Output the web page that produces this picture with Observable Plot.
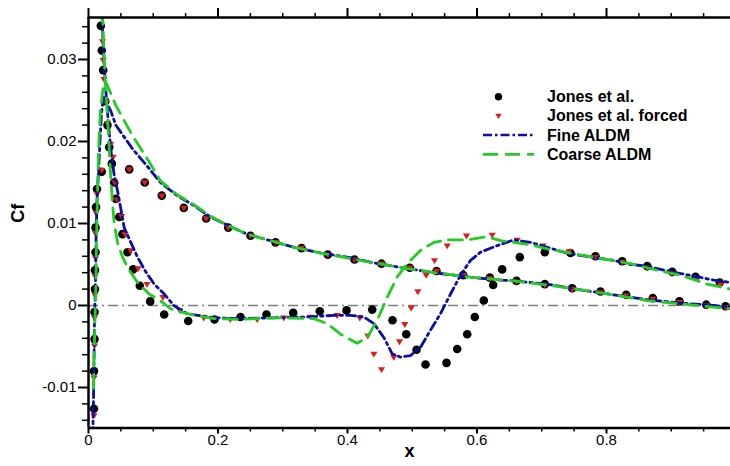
<!DOCTYPE html>
<html>
<head>
<meta charset="utf-8">
<script src="https://cdn.jsdelivr.net/npm/d3@7"></script>
<script src="https://cdn.jsdelivr.net/npm/@observablehq/plot@0.6"></script>
<style>
  html, body { margin: 0; padding: 0; background: #fff; }
  #chart { width: 730px; height: 466px; }
</style>
</head>
<body>
<div id="chart"></div>
<script>
// ---------- axis ticks ----------
const xDomain = [0, 0.9915];
const yDomain = [-0.01494, 0.03512];
const xTicks = [0, 0.2, 0.4, 0.6, 0.8];
const xTickLabels = ["0", "0.2", "0.4", "0.6", "0.8"];
const xMinor = [0.05, 0.1, 0.15, 0.25, 0.3, 0.35, 0.45, 0.5, 0.55, 0.65, 0.7, 0.75, 0.85, 0.9, 0.95];
const yTicks = [-0.01, 0, 0.01, 0.02, 0.03];
const yTickLabels = ["-0.01", "0", "0.01", "0.02", "0.03"];
const yMinor = [-0.014, -0.012, -0.008, -0.006, -0.004, -0.002, 0.002, 0.004, 0.006, 0.008,
                0.012, 0.014, 0.016, 0.018, 0.022, 0.024, 0.026, 0.028, 0.032, 0.034];
const legendLabels = ["Jones et al.", "Jones et al. forced", "Fine ALDM", "Coarse ALDM"];

// ---------- Jones et al. (circles) ----------
const jonesPressureX = [0.0085, 0.0085, 0.0093, 0.0093, 0.0100, 0.0100, 0.0108, 0.0108, 0.0116, 0.0131, 0.0205,
  0.0629, 0.0869, 0.1132, 0.1472, 0.1818, 0.2158, 0.2502, 0.2888, 0.3290, 0.3696, 0.4108, 0.4525, 0.4962,
  0.5375, 0.5787, 0.6198, 0.6610, 0.7047, 0.7470, 0.7907, 0.8304, 0.8715, 0.9127, 0.9540, 0.9838];
const jonesPressureCf = [-0.0126, -0.0080, -0.0041, -0.0008, 0.0020, 0.0043, 0.0065, 0.0095, 0.0120, 0.0142, 0.0163,
  0.0166, 0.0150, 0.0134, 0.0119, 0.0106, 0.0095, 0.0085, 0.0077, 0.0070, 0.0062, 0.0056, 0.0051, 0.0046,
  0.0042, 0.0037, 0.0034, 0.0030, 0.0026, 0.0021, 0.0017, 0.0013, 0.0009, 0.0005, 0.0001, -0.0001];
const jonesSuctionX = [0.0190, 0.0205, 0.0227, 0.0258, 0.0293, 0.0320, 0.0360, 0.0397, 0.0422, 0.0474, 0.0525,
  0.0602, 0.0690, 0.0792, 0.0953, 0.1169, 0.1540, 0.1946, 0.2347, 0.2749, 0.3161, 0.3572, 0.3985, 0.4382,
  0.4695, 0.4907, 0.5066, 0.5205, 0.5529, 0.5694, 0.5849, 0.5966, 0.6105, 0.6250, 0.6389, 0.6661, 0.7047,
  0.7444, 0.7830, 0.8242, 0.8629, 0.9015, 0.9375, 0.9750];
const jonesSuctionCf = [0.0341, 0.0311, 0.0287, 0.0249, 0.0220, 0.0193, 0.0173, 0.0150, 0.0130, 0.0108, 0.0087,
  0.0065, 0.0044, 0.0024, 0.0005, -0.0011, -0.0019, -0.0017, -0.0014, -0.0011, -0.0009, -0.0007, -0.0006, -0.0005,
  -0.0018, -0.0035, -0.0054, -0.0072, -0.0070, -0.0053, -0.0035, -0.0014, 0.0006, 0.0025, 0.0044, 0.0059, 0.0065,
  0.0064, 0.0060, 0.0054, 0.0048, 0.0041, 0.0035, 0.0028];

// ---------- Jones et al. forced (triangles) ----------
const forcedPressureX = [0.0085, 0.0085, 0.0093, 0.0093, 0.0100, 0.0100, 0.0108, 0.0108, 0.0116, 0.0131, 0.0205,
  0.0629, 0.0869, 0.1132, 0.1472, 0.1818, 0.2158, 0.2502, 0.2888, 0.3290, 0.3696, 0.4108, 0.4525, 0.4962,
  0.5375, 0.5787, 0.6198, 0.6610, 0.7047, 0.7470, 0.7907, 0.8304, 0.8715, 0.9127, 0.9540, 0.9838];
const forcedPressureCf = [-0.0134, -0.0088, -0.0049, -0.0015, 0.0013, 0.0036, 0.0058, 0.0088, 0.0113, 0.0136, 0.0165,
  0.0166, 0.0150, 0.0134, 0.0119, 0.0106, 0.0095, 0.0085, 0.0077, 0.0070, 0.0062, 0.0056, 0.0051, 0.0046,
  0.0042, 0.0037, 0.0033, 0.0029, 0.0025, 0.0020, 0.0016, 0.0012, 0.0008, 0.0004, 0.0000, -0.0002];
const forcedSuctionX = [0.0216, 0.0227, 0.0239, 0.0268, 0.0293, 0.0344, 0.0380, 0.0406, 0.0440, 0.0510, 0.0564,
  0.0650, 0.0765, 0.0903, 0.1150, 0.1410, 0.1780, 0.2190, 0.2605, 0.3016, 0.3430, 0.3840, 0.4190, 0.4314,
  0.4407, 0.4525, 0.4715, 0.4803, 0.4885, 0.4984, 0.5086, 0.5215, 0.5344, 0.5540, 0.5838, 0.6235, 0.6620,
  0.7020, 0.7420, 0.7830, 0.8240, 0.8630, 0.9010, 0.9390, 0.9760];
const forcedSuctionCf = [0.0322, 0.0299, 0.0276, 0.0248, 0.0222, 0.0197, 0.0181, 0.0150, 0.0129, 0.0109, 0.0087,
  0.0067, 0.0045, 0.0026, 0.0010, -0.0006, -0.0015, -0.0017, -0.0017, -0.0015, -0.0014, -0.0012, -0.0015, -0.0037,
  -0.0059, -0.0078, -0.0063, -0.0044, -0.0023, -0.0003, 0.0017, 0.0037, 0.0055, 0.0073, 0.0085, 0.0086, 0.0080,
  0.0073, 0.0066, 0.0059, 0.0053, 0.0046, 0.0039, 0.0033, 0.0025];

// ---------- Fine ALDM ----------
const finePressureX = [0.0065, 0.0077, 0.0085, 0.0093, 0.0108, 0.0116, 0.0131, 0.0154, 0.0178, 0.0201, 0.0232,
  0.0263, 0.0340, 0.0422, 0.0680, 0.0937, 0.1112, 0.1370, 0.1626, 0.1884, 0.2142, 0.2451, 0.2811, 0.3171,
  0.3583, 0.3995, 0.4406, 0.4922, 0.5436, 0.5951, 0.6363, 0.6568, 0.7084, 0.7598, 0.8113, 0.8629, 0.9143,
  0.9657, 0.9915];
const finePressureCf = [-0.0160, -0.0116, -0.0067, -0.0018, 0.0030, 0.0079, 0.0128, 0.0162, 0.0201, 0.0235, 0.0254,
  0.0250, 0.0238, 0.0220, 0.0191, 0.0167, 0.0150, 0.0134, 0.0122, 0.0108, 0.0098, 0.0087, 0.0079, 0.0071,
  0.0064, 0.0059, 0.0052, 0.0045, 0.0039, 0.0034, 0.0031, 0.0030, 0.0026, 0.0019, 0.0013, 0.0007, 0.0003,
  0.0000, -0.0002];
const fineSuctionX = [0.0208, 0.0224, 0.0247, 0.0278, 0.0317, 0.0355, 0.0397, 0.0448, 0.0499, 0.0551, 0.0653,
  0.0757, 0.0885, 0.1015, 0.1169, 0.1317, 0.1524, 0.1935, 0.2347, 0.2862, 0.3378, 0.3788, 0.4046, 0.4252,
  0.4406, 0.4561, 0.4690, 0.4819, 0.4973, 0.5127, 0.5282, 0.5436, 0.5591, 0.5745, 0.5900, 0.6054, 0.6312,
  0.6568, 0.6826, 0.7084, 0.7341, 0.7598, 0.7856, 0.8113, 0.8371, 0.8629, 0.8885, 0.9143, 0.9401, 0.9657, 0.9915];
const fineSuctionCf = [0.0360, 0.0323, 0.0287, 0.0250, 0.0213, 0.0183, 0.0159, 0.0140, 0.0118, 0.0095, 0.0077,
  0.0059, 0.0041, 0.0026, 0.0014, 0.0000, -0.0010, -0.0015, -0.0016, -0.0015, -0.0014, -0.0012, -0.0012, -0.0014,
  -0.0022, -0.0039, -0.0059, -0.0063, -0.0061, -0.0051, -0.0030, -0.0010, 0.0014, 0.0037, 0.0055, 0.0065, 0.0073,
  0.0080, 0.0077, 0.0071, 0.0065, 0.0061, 0.0058, 0.0055, 0.0050, 0.0048, 0.0043, 0.0039, 0.0035, 0.0031, 0.0028];

// ---------- Coarse ALDM ----------
const coarsePressureX = [0.0077, 0.0085, 0.0100, 0.0116, 0.0124, 0.0139, 0.0154, 0.0185, 0.0224, 0.0255, 0.0293,
  0.0422, 0.0680, 0.0937, 0.1112, 0.1370, 0.1626, 0.1884, 0.2142, 0.2451, 0.2811, 0.3171, 0.3583, 0.3995,
  0.4406, 0.4922, 0.5436, 0.5951, 0.6568, 0.7084, 0.7598, 0.8113, 0.8629, 0.9143, 0.9657, 0.9915];
const coarsePressureCf = [-0.0101, -0.0067, -0.0018, 0.0030, 0.0079, 0.0134, 0.0189, 0.0238, 0.0265, 0.0274, 0.0268,
  0.0244, 0.0207, 0.0175, 0.0152, 0.0135, 0.0123, 0.0109, 0.0098, 0.0087, 0.0079, 0.0071, 0.0064, 0.0058,
  0.0052, 0.0045, 0.0039, 0.0034, 0.0030, 0.0025, 0.0019, 0.0013, 0.0006, 0.0002, -0.0002, -0.0004];
const coarseSuctionX = [0.0216, 0.0232, 0.0255, 0.0278, 0.0293, 0.0317, 0.0340, 0.0371, 0.0397, 0.0448, 0.0525,
  0.0629, 0.0757, 0.0937, 0.1143, 0.1266, 0.1524, 0.1935, 0.2347, 0.2862, 0.3480, 0.3686, 0.3892, 0.4150,
  0.4304, 0.4459, 0.4613, 0.4768, 0.4922, 0.5127, 0.5333, 0.5540, 0.5849, 0.6158, 0.6363, 0.6568, 0.6826,
  0.7084, 0.7495, 0.8011, 0.8371, 0.8783, 0.9143, 0.9555, 0.9915];
const coarseSuctionCf = [0.0360, 0.0320, 0.0280, 0.0250, 0.0232, 0.0195, 0.0162, 0.0124, 0.0100, 0.0077, 0.0059,
  0.0043, 0.0028, 0.0014, 0.0004, -0.0004, -0.0010, -0.0016, -0.0017, -0.0015, -0.0016, -0.0022, -0.0035, -0.0046,
  -0.0039, -0.0018, 0.0010, 0.0035, 0.0051, 0.0067, 0.0077, 0.0080, 0.0080, 0.0084, 0.0079, 0.0077, 0.0074,
  0.0069, 0.0063, 0.0056, 0.0051, 0.0043, 0.0037, 0.0026, 0.0020];

// ---------- build tables ----------
const zip = (xs, ys) => xs.map((x, i) => ({x, cf: ys[i]}));
const jones = [...zip(jonesPressureX, jonesPressureCf), ...zip(jonesSuctionX, jonesSuctionCf)];
const forced = [...zip(forcedPressureX, forcedPressureCf), ...zip(forcedSuctionX, forcedSuctionCf)];
const fineP = zip(finePressureX, finePressureCf);
const fineS = zip(fineSuctionX, fineSuctionCf);
const coarseP = zip(coarsePressureX, coarsePressureCf);
const coarseS = zip(coarseSuctionX, coarseSuctionCf);

const FONT = '"Liberation Sans", Arial, Helvetica, sans-serif';
const BLUE = "#0c0ca6";
const GREEN = "#22cc22";
const RED = "#e01b1b";
const BLUE_DASH = "9,4,2.5,4";
const GREEN_DASH = "14,8";

// downward triangle symbol
const triDown = {
  draw(ctx, size) {
    const r = Math.sqrt(size / Math.PI);
    ctx.moveTo(-r, -0.62 * r);
    ctx.lineTo(r, -0.62 * r);
    ctx.lineTo(0, r);
    ctx.closePath();
  }
};

const yFmt = d => yTickLabels[yTicks.indexOf(d)];
const xFmt = d => xTickLabels[xTicks.indexOf(d)];

const svg = Plot.plot({
  width: 730,
  height: 466,
  marginLeft: 88,
  marginRight: 0,
  marginTop: 17,
  marginBottom: 38.5,
  style: {fontFamily: FONT, fontSize: "15px", background: "#fff", color: "#000", overflow: "visible"},
  x: {domain: xDomain},
  y: {domain: yDomain},
  marks: [
    Plot.ruleY([0], {stroke: "#7f7f7f", strokeWidth: 1.5, strokeDasharray: "10,4,2,4"}),
    Plot.dot(jones, {x: "x", y: "cf", r: 4.3, fill: "#000", clip: true}),
    Plot.dot(forced, {x: "x", y: "cf", r: 3.6, symbol: triDown, fill: RED, clip: true}),
    Plot.line(fineP, {x: "x", y: "cf", stroke: BLUE, strokeWidth: 2.8, strokeDasharray: BLUE_DASH, clip: true}),
    Plot.line(fineS, {x: "x", y: "cf", stroke: BLUE, strokeWidth: 2.8, strokeDasharray: BLUE_DASH, clip: true}),
    Plot.line(coarseP, {x: "x", y: "cf", stroke: GREEN, strokeWidth: 2.8, strokeDasharray: GREEN_DASH, clip: true}),
    Plot.line(coarseS, {x: "x", y: "cf", stroke: GREEN, strokeWidth: 2.8, strokeDasharray: GREEN_DASH, clip: true}),
    // frame
    Plot.ruleX([xDomain[0]], {stroke: "#000", strokeWidth: 2.5}),
    Plot.ruleY([yDomain[0], yDomain[1]], {stroke: "#000", strokeWidth: 2.5}),
    // axes
    Plot.axisX({anchor: "bottom", ticks: xTicks, tickSize: 6, tickPadding: 0, tickFormat: xFmt, fontSize: 15, strokeWidth: 2, label: null}),
    Plot.axisX({anchor: "bottom", ticks: xMinor, tickSize: 4, fill: "none", strokeWidth: 1.5, label: null}),
    Plot.axisX({anchor: "top", ticks: xTicks, tickSize: 10, fill: "none", strokeWidth: 2, label: null}),
    Plot.axisX({anchor: "top", ticks: xMinor, tickSize: 5, fill: "none", strokeWidth: 1.5, label: null}),
    Plot.axisY({anchor: "left", ticks: yTicks, tickSize: 10, tickPadding: 2, tickFormat: yFmt, fontSize: 15, strokeWidth: 2, label: null}),
    Plot.axisY({anchor: "left", ticks: yMinor, tickSize: 6, fill: "none", strokeWidth: 1.5, label: null}),
    // axis titles
    Plot.text(["Cf"], {text: d => d, frameAnchor: "left", dx: -70, rotate: -90, fontWeight: "bold", fontSize: 18}),
    Plot.text(["x"], {text: d => d, frameAnchor: "bottom", dy: 28.5, fontWeight: "bold", fontSize: 18})
  ]
});

// ---------- legend (inside plot area) ----------
const g = d3.select(svg).append("g")
  .attr("font-family", FONT).attr("font-weight", "bold").attr("font-size", 16)
  .attr("text-anchor", "start");
const rowY = [96.8, 115.8, 135, 154.3];
legendLabels.forEach((lab, i) => {
  g.append("text").attr("x", 547).attr("y", rowY[i]).attr("dy", "0.35em")
    .attr("text-anchor", "start").attr("fill", "#000").text(lab);
});
g.append("circle").attr("cx", 498.5).attr("cy", rowY[0]).attr("r", 3.7).attr("fill", "#000");
g.append("path").attr("transform", `translate(498.5,${rowY[1]})`)
  .attr("d", d3.symbol(triDown, Math.PI * 3.2 * 3.2)()).attr("fill", RED);
g.append("line").attr("x1", 483).attr("x2", 534).attr("y1", rowY[2]).attr("y2", rowY[2])
  .attr("stroke", BLUE).attr("stroke-width", 2.6).attr("stroke-dasharray", "9,3,2.5,3");
g.append("line").attr("x1", 483).attr("x2", 534).attr("y1", rowY[3]).attr("y2", rowY[3])
  .attr("stroke", GREEN).attr("stroke-width", 2.8).attr("stroke-dasharray", "15,7");

document.getElementById("chart").appendChild(svg);
</script>
</body>
</html>
